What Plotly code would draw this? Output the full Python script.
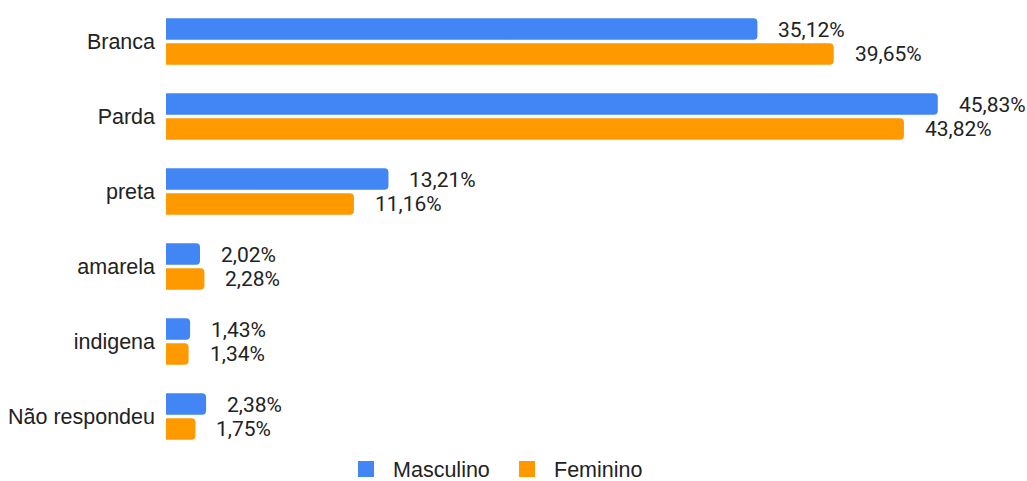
import plotly.graph_objects as go

categories = ["Branca", "Parda", "preta", "amarela", "indigena", "Não respondeu"]
masculino = [35.12, 45.83, 13.21, 2.02, 1.43, 2.38]
feminino = [39.65, 43.82, 11.16, 2.28, 1.34, 1.75]
series_names = ["Masculino", "Feminino"]
colors = ["#4285F4", "#FF9900"]

TXT = "#222222"
SANS = "Liberation Sans, Arial, sans-serif"


def fmt(v):
    return f"{v:.2f}".replace(".", ",") + "%"


fig = go.Figure()
for name, vals, col in zip(series_names, [masculino, feminino], colors):
    fig.add_trace(go.Bar(
        y=categories, x=vals, name=name, orientation="h", showlegend=False,
        marker=dict(color=col, line=dict(width=0)),
    ))
# legend-only entries with larger square swatches
for name, col in zip(series_names, colors):
    fig.add_trace(go.Scatter(
        x=[None], y=[None], mode="markers", name=name,
        marker=dict(symbol="square", size=16, color=col),
    ))

annotations = []
for vals, ys in [(masculino, 12), (feminino, -12)]:
    for c, v in zip(categories, vals):
        annotations.append(dict(
            x=v, y=c, xref="x", yref="y", text=fmt(v), showarrow=False,
            xanchor="left", yanchor="middle", xshift=19, yshift=ys,
            font=dict(family="Roboto", size=21, color=TXT),
        ))

fig.update_layout(
    width=1027, height=481,
    margin=dict(l=166, r=19, t=4, b=27, autoexpand=False),
    paper_bgcolor="white", plot_bgcolor="white",
    barmode="group", bargap=0.339, bargroupgap=0.133,
    barcornerradius=4,
    font=dict(family=SANS, size=21.5, color=TXT),
    xaxis=dict(range=[0, 50], visible=False, showgrid=False, zeroline=False),
    yaxis=dict(autorange="reversed", showgrid=False, zeroline=False,
               ticks="", ticklabelstandoff=10,
               tickfont=dict(family=SANS, size=21.5, color=TXT)),
    legend=dict(orientation="h", x=0.2055, xanchor="left",
                yref="container", y=0.025, yanchor="middle",
                font=dict(family=SANS, size=21.5, color=TXT),
                itemwidth=44, entrywidth=102, entrywidthmode="pixels",
                traceorder="normal", itemsizing="trace"),
    annotations=annotations,
    showlegend=True,
)

fig.write_html("out.html", config={"displayModeBar": False},
               post_script="document.body.style.margin='0';document.body.style.padding='0';")
